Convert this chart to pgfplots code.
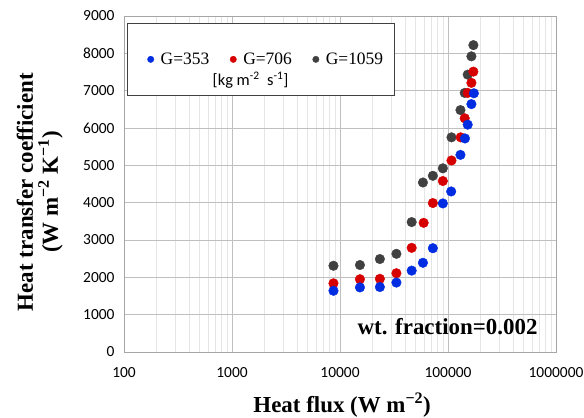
\documentclass[border=0pt]{standalone}
\usepackage{fontspec}
\setmainfont{Liberation Serif}
\newfontfamily\carlito{Carlito}
\usepackage{pgfplots}
\pgfplotsset{compat=1.18}
\definecolor{cblue}{RGB}{0,45,225}
\definecolor{cred}{RGB}{215,0,0}
\definecolor{cdark}{RGB}{64,64,64}
\begin{document}
\begin{tikzpicture}
\useasboundingbox (-124bp,-66bp) rectangle (460bp,352bp);
\begin{axis}[
 at={(0,0)}, anchor=south west,
 scale only axis, width=432bp, height=336bp,
 xmode=log, log basis x=10,
 xmin=100, xmax=1000000, ymin=0, ymax=9000,
 xtick={100,1000,10000,100000,1000000},
 xticklabels={100,1000,10000,100000,1000000},
 minor xtick={200,300,400,500,600,700,800,900,2000,3000,4000,5000,6000,7000,8000,9000,20000,30000,40000,50000,60000,70000,80000,90000,200000,300000,400000,500000,600000,700000,800000,900000},
 ytick={0,1000,2000,3000,4000,5000,6000,7000,8000,9000},
 yticklabels={0,1000,2000,3000,4000,5000,6000,7000,8000,9000},
 major tick length=0pt, minor tick length=0pt,
 xmajorgrids, xminorgrids, ymajorgrids,
 major grid style={draw=gray!50, line width=0.8bp},
 minor grid style={draw=gray!20, line width=0.8bp},
 axis line style={draw=gray!70, line width=0.8bp},
 ticklabel style={font=\carlito\fontsize{15.5}{15.5}\selectfont},
 xticklabel style={yshift=-12bp},
 yticklabel style={xshift=-6bp},
 xlabel={Heat flux (W m\textsuperscript{−2})},
 xlabel style={font=\bfseries\fontsize{23}{25}\selectfont, at={(axis description cs:0.505,-0.1786)}, anchor=base},
 ylabel={Heat transfer coefficient\\(W m\textsuperscript{−2} K\textsuperscript{−1})},
 ylabel style={font=\bfseries\fontsize{23}{25}\selectfont, align=center, at={(axis description cs:-0.195,0.476)}, anchor=center},
 legend columns=3, reverse legend,
 legend style={at={(rel axis cs:0.0109,0.871)}, anchor=west, draw=none, fill=none,
   inner sep=0pt, outer sep=0pt, column sep=0pt,
   font=\fontsize{17.5}{18}\selectfont,
   nodes={font=\fontsize{17.5}{18}\selectfont, inner xsep=2bp}},
]
\draw[draw=black!75, fill=white, line width=0.8bp] (rel axis cs:0.0076,0.978) rectangle (rel axis cs:0.627,0.765);
\node[font=\carlito\fontsize{16.5}{16.5}\selectfont] at (rel axis cs:0.293,0.8095) {[kg m\textsuperscript{-2}\ \ s\textsuperscript{-1}]};
\node[font=\bfseries\fontsize{23}{23}\selectfont, anchor=base] at (rel axis cs:0.749,0.0527) {wt. fraction=0.002};

\addplot[only marks, mark=*, mark size=4.8bp, color=cdark, mark options={draw=none, fill=cdark},
  legend image code/.code={\path[draw=none,fill=none] (0bp,0bp) -- (30bp,0bp); \fill[cdark] (22bp,0bp) circle (3.2bp);}] coordinates {
(8700,2310) (15300,2330) (23400,2490) (33300,2630) (46100,3480) (58600,4540) (72400,4720)
(89600,4920) (107700,5750) (130400,6480) (142800,6940) (152200,7430) (164700,7920) (171800,8220)};
\addlegendentry{G=1059}
\addplot[only marks, mark=*, mark size=4.8bp, color=cred, mark options={draw=none, fill=cred},
  legend image code/.code={\path[draw=none,fill=none] (0bp,0bp) -- (30bp,0bp); \fill[cred] (22bp,0bp) circle (3.2bp);}] coordinates {
(8700,1840) (15300,1950) (23400,1960) (33300,2110) (46100,2790) (59500,3460) (72400,3990)
(89600,4580) (107700,5130) (131000,5750) (142800,6260) (152200,6940) (164700,7210) (171800,7510)};
\addlegendentry{G=706}
\addplot[only marks, mark=*, mark size=4.8bp, color=cblue, mark options={draw=none, fill=cblue},
  legend image code/.code={\path[draw=none,fill=none] (0bp,0bp) -- (30bp,0bp); \fill[cblue] (22bp,0bp) circle (3.2bp);}] coordinates {
(8700,1640) (15300,1730) (23400,1740) (33300,1860) (46100,2180) (58600,2390) (72400,2780)
(89600,3980) (107000,4300) (130400,5280) (143500,5720) (152200,6090) (164700,6640) (173700,6930)};
\addlegendentry{G=353}
\end{axis}
\end{tikzpicture}
\end{document}
